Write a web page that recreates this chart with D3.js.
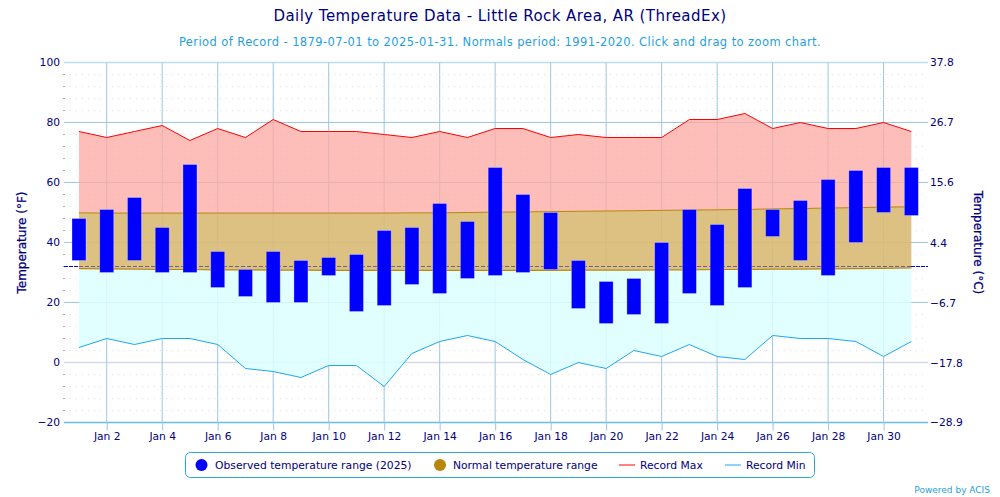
<!DOCTYPE html>
<html>
<head>
<meta charset="utf-8">
<script src="https://cdn.jsdelivr.net/npm/d3@7"></script>
<style>
  html, body { margin: 0; padding: 0; background: #fff; overflow: hidden; }
  text { font-family: "DejaVu Sans", sans-serif; }
</style>
</head>
<body>
<div id="graph-container"></div>
<script>
const days = d3.range(1, 32);
const obsHigh = [48, 51, 55, 45, 66, 37, 31, 37, 34, 35, 36, 44, 45, 53, 47, 65, 56, 50, 34, 27, 28, 40, 51, 46, 58, 51, 54, 61, 64, 65, 65];
const obsLow = [34, 30, 34, 30, 30, 25, 22, 20, 20, 29, 17, 19, 26, 23, 28, 29, 30, 31, 18, 13, 16, 13, 23, 19, 25, 42, 34, 29, 40, 50, 49];
const normalHigh = [49.9, 49.8, 49.8, 49.8, 49.8, 49.8, 49.8, 49.8, 49.8, 49.8, 49.8, 49.8, 49.9, 49.9, 50, 50.1, 50.2, 50.3, 50.4, 50.5, 50.6, 50.7, 50.8, 50.9, 51, 51.2, 51.3, 51.5, 51.6, 51.8, 51.9];
const normalLow = [31.3, 31.2, 31.1, 31, 31, 30.9, 30.9, 30.8, 30.8, 30.7, 30.7, 30.7, 30.7, 30.7, 30.7, 30.7, 30.7, 30.7, 30.8, 30.8, 30.8, 30.9, 30.9, 31, 31, 31.1, 31.1, 31.2, 31.3, 31.4, 31.5];
const recordMax = [77, 75, 77, 79, 74, 78, 75, 81, 77, 77, 77, 76, 75, 77, 75, 78, 78, 75, 76, 75, 75, 75, 81, 81, 83, 78, 80, 78, 78, 80, 77];
const recordMin = [5, 8, 6, 8, 8, 6, -2, -3, -5, -1, -1, -8, 3, 7, 9, 7, 1, -4, 0, -2, 4, 2, 6, 2, 1, 9, 8, 8, 7, 2, 7];
const tempTicks = [-20, 0, 20, 40, 60, 80, 100];
const minorTicks = d3.range(-20, 100, 4).filter((d) => d % 20 !== 0);
const celsiusTicks = [-28.9, -17.8, -6.7, 4.4, 15.6, 26.7, 37.8];
const dayTicks = d3.range(2, 31, 2);
const freezing = 32;

const width = 1000;
const height = 497;
const margin = { top: 62.5, right: 72, bottom: 74.5, left: 64 };
const navy = "#000080";
const sky = "#1f9fe0";
const gridColor = "#9cc6e2";

const svg = d3
  .select("#graph-container")
  .append("svg")
  .attr("width", width)
  .attr("height", height);

const x = d3
  .scaleLinear()
  .domain([0.46, 31.6])
  .range([margin.left, width - margin.right]);
const y = d3
  .scaleLinear()
  .domain([-20, 100])
  .range([height - margin.bottom, margin.top]);
const yC = d3
  .scaleLinear()
  .domain([((-20 - 32) * 5) / 9, ((100 - 32) * 5) / 9])
  .range(y.range());

//grid
const majorColor = (d) => {
  if (d === 0) return "#d3dbea";
  if (d === -20) return "#6cbcec";
  if (d === 100) return "#bcdcf0";
  return gridColor;
};
const grid = svg.append("g");
grid
  .selectAll("line.minor")
  .data(minorTicks)
  .enter()
  .append("line")
  .attr("class", "minor")
  .attr("x1", margin.left)
  .attr("x2", width - margin.right)
  .attr("y1", (d) => y(d))
  .attr("y2", (d) => y(d))
  .attr("stroke", "#dedede")
  .attr("stroke-width", 1)
  .attr("stroke-dasharray", "1,5");
grid
  .selectAll("line.major")
  .data(tempTicks)
  .enter()
  .append("line")
  .attr("class", "major")
  .attr("x1", margin.left)
  .attr("x2", width - margin.right)
  .attr("y1", (d) => y(d))
  .attr("y2", (d) => y(d))
  .attr("stroke", majorColor)
  .attr("stroke-width", (d) => (d === -20 || d === 100 || d === 0 ? 1.5 : 1));
grid
  .selectAll("line.vert")
  .data(dayTicks)
  .enter()
  .append("line")
  .attr("class", "vert")
  .attr("x1", (d) => x(d))
  .attr("x2", (d) => x(d))
  .attr("y1", margin.top)
  .attr("y2", height - margin.bottom)
  .attr("stroke", gridColor)
  .attr("stroke-width", 1);

//filled bands
const band = (top, bottom) =>
  d3
    .area()
    .x((d) => x(d))
    .y0((d) => y(bottom[d - 1]))
    .y1((d) => y(top[d - 1]));

svg
  .append("path")
  .attr("d", band(recordMax, normalHigh)(days))
  .attr("fill", "#fdaaa4")
  .attr("fill-opacity", 0.78);
svg
  .append("path")
  .attr("d", band(normalHigh, normalLow)(days))
  .attr("fill", "#d8ba76")
  .attr("fill-opacity", 0.9);
svg
  .append("path")
  .attr("d", band(normalLow, recordMin)(days))
  .attr("fill", "#dcffff")
  .attr("fill-opacity", 0.85);

//normal range edges
const edge = (values) =>
  d3
    .line()
    .x((d) => x(d))
    .y((d) => y(values[d - 1]));

svg
  .append("path")
  .attr("d", edge(normalHigh)(days))
  .attr("fill", "none")
  .attr("stroke", "#b8860b")
  .attr("stroke-width", 1);
svg
  .append("path")
  .attr("d", edge(normalLow)(days))
  .attr("fill", "none")
  .attr("stroke", "#b8860b")
  .attr("stroke-width", 1.2);

//freezing line
svg
  .append("line")
  .attr("x1", 79)
  .attr("x2", 911)
  .attr("y1", y(freezing))
  .attr("y2", y(freezing))
  .attr("stroke", "#6a5f90")
  .attr("stroke-width", 1)
  .attr("stroke-dasharray", "4,2");

//record lines
svg
  .append("path")
  .attr("d", edge(recordMax)(days))
  .attr("fill", "none")
  .attr("stroke", "#ff0000")
  .attr("stroke-width", 1);
svg
  .append("path")
  .attr("d", edge(recordMin)(days))
  .attr("fill", "none")
  .attr("stroke", "#1ea7f0")
  .attr("stroke-width", 1);

//observed bars
svg
  .selectAll("rect.obs")
  .data(days)
  .enter()
  .append("rect")
  .attr("class", "obs")
  .attr("x", (d) => x(d) - 7)
  .attr("width", 14)
  .attr("y", (d) => y(obsHigh[d - 1]))
  .attr("height", (d) => y(obsLow[d - 1]) - y(obsHigh[d - 1]))
  .attr("fill", "#0000ff")
  .attr("stroke", "#fff")
  .attr("stroke-opacity", 0.35)
  .attr("stroke-width", 0.8);

//axes
const styleAxis = (g) => {
  g.select(".domain").remove();
  g.selectAll(".tick line").attr("stroke", gridColor);
  g.selectAll("text")
    .attr("fill", navy)
    .attr("font-size", 10.7)
    .attr("font-family", '"DejaVu Sans", sans-serif');
};

svg
  .append("g")
  .attr("transform", `translate(${margin.left},0)`)
  .call(d3.axisLeft(y).tickValues(tempTicks).tickSize(0).tickPadding(4))
  .call(styleAxis);

svg
  .append("g")
  .attr("transform", `translate(${width - margin.right},0)`)
  .call(
    d3
      .axisRight(yC)
      .tickValues(celsiusTicks)
      .tickFormat(d3.format(".1f"))
      .tickSize(0)
      .tickPadding(2),
  )
  .call(styleAxis);

svg
  .append("g")
  .attr("transform", `translate(0,${height - margin.bottom})`)
  .call(
    d3
      .axisBottom(x)
      .tickValues(dayTicks)
      .tickFormat((d) => `Jan ${d}`)
      .tickSize(8)
      .tickPadding(2),
  )
  .call(styleAxis);

//minor tick marks outside the plot
svg
  .selectAll("line.lmark")
  .data(minorTicks)
  .enter()
  .append("line")
  .attr("class", "lmark")
  .attr("x1", margin.left - 1)
  .attr("x2", margin.left + 1)
  .attr("y1", (d) => y(d))
  .attr("y2", (d) => y(d))
  .attr("stroke", "#aaa");

//freezing stubs outside the bands
svg
  .append("line")
  .attr("x1", margin.left)
  .attr("x2", 79)
  .attr("y1", y(freezing))
  .attr("y2", y(freezing))
  .attr("stroke", "#0000e0")
  .attr("stroke-dasharray", "4,1");
svg
  .append("line")
  .attr("x1", 911)
  .attr("x2", width - margin.right)
  .attr("y1", y(freezing))
  .attr("y2", y(freezing))
  .attr("stroke", "#0000e0")
  .attr("stroke-dasharray", "4,1");

//titles
svg
  .append("text")
  .attr("x", 500)
  .attr("y", 21)
  .attr("text-anchor", "middle")
  .attr("font-size", 15)
  .attr("letter-spacing", 0.44)
  .attr("fill", navy)
  .text("Daily Temperature Data - Little Rock Area, AR (ThreadEx)");
svg
  .append("text")
  .attr("x", 500)
  .attr("y", 46)
  .attr("text-anchor", "middle")
  .attr("font-size", 11.5)
  .attr("letter-spacing", 0.41)
  .attr("fill", sky)
  .text("Period of Record - 1879-07-01 to 2025-01-31. Normals period: 1991-2020. Click and drag to zoom chart.");
svg
  .append("text")
  .attr("transform", `translate(26,${y(40)}) rotate(-90)`)
  .attr("text-anchor", "middle")
  .attr("font-size", 12)
  .attr("fill", navy)
  .attr("stroke", navy)
  .attr("stroke-width", 0.25)
  .text("Temperature (°F)");
svg
  .append("text")
  .attr("transform", `translate(974,${y(40)}) rotate(90)`)
  .attr("text-anchor", "middle")
  .attr("font-size", 12)
  .attr("fill", navy)
  .attr("stroke", navy)
  .attr("stroke-width", 0.25)
  .text("Temperature (°C)");

//legend
const legend = svg.append("g");
legend
  .append("rect")
  .attr("x", 185.5)
  .attr("y", 452.5)
  .attr("width", 629)
  .attr("height", 25)
  .attr("rx", 5)
  .attr("fill", "#fff")
  .attr("stroke", "#2aa5e6");

const legendDots = [
  { cx: 201.5, color: "#0000ff" },
  { cx: 440, color: "#b8860b" },
];
const legendLines = [
  { x1: 619, x2: 635, color: "#ff0000" },
  { x1: 725, x2: 741, color: "#1ea7f0" },
];
const legendLabels = [
  { x: 215, label: "Observed temperature range (2025)" },
  { x: 453, label: "Normal temperature range" },
  { x: 640, label: "Record Max" },
  { x: 746, label: "Record Min" },
];

legend
  .selectAll("circle")
  .data(legendDots)
  .enter()
  .append("circle")
  .attr("cx", (d) => d.cx)
  .attr("cy", 465)
  .attr("r", 6)
  .attr("fill", (d) => d.color);
legend
  .selectAll("line")
  .data(legendLines)
  .enter()
  .append("line")
  .attr("x1", (d) => d.x1)
  .attr("x2", (d) => d.x2)
  .attr("y1", 465)
  .attr("y2", 465)
  .attr("stroke", (d) => d.color);
legend
  .selectAll("text")
  .data(legendLabels)
  .enter()
  .append("text")
  .attr("x", (d) => d.x)
  .attr("y", 469)
  .attr("font-size", 10.75)
  .attr("fill", navy)
  .text((d) => d.label);

svg
  .append("text")
  .attr("x", 990)
  .attr("y", 492.5)
  .attr("text-anchor", "end")
  .attr("font-size", 9)
  .attr("fill", sky)
  .text("Powered by ACIS");
</script>
</body>
</html>
